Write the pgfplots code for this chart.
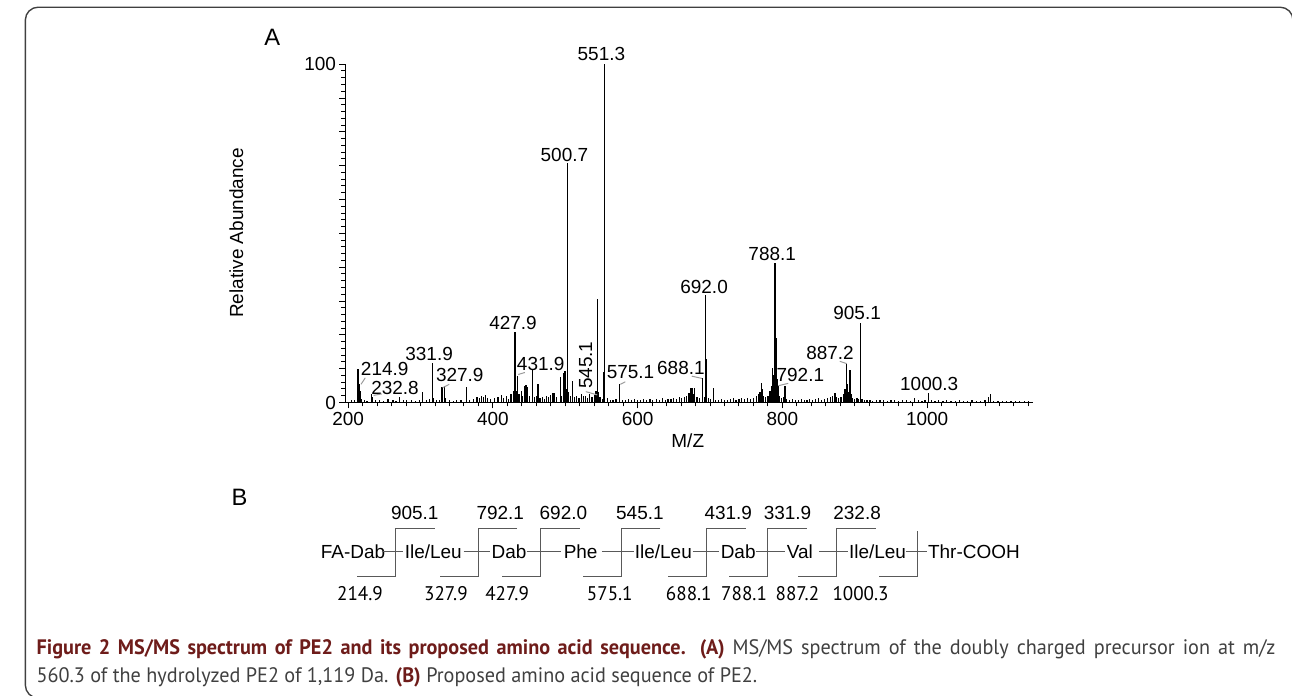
\documentclass[border=0pt]{standalone}
\usepackage{fontspec}
\setmainfont{Liberation Sans}
\newfontfamily\capfont{PT Sans}
\usepackage{graphicx}
\usepackage{pgfplots}
\usepackage{pgfplotstable}
\pgfplotsset{compat=1.18}

\definecolor{capred}{RGB}{110,28,26}
\definecolor{captext}{gray}{0.25}
\definecolor{leader}{gray}{0.6}
\definecolor{brk}{gray}{0.35}

% MS/MS spectrum, m/z vs relative abundance
\pgfplotstableread{
mz ab
205 0.6
209 0.8
213.5 9.8
215 5.5
215.8 5.0
216.5 3.5
218 1.0
222 0.7
226 0.5
231.8 2.4
234 1.7
238 0.6
243 0.8
249 0.5
255 0.9
262 0.7
266 0.5
271.4 1.7
276 0.6
281 0.8
287 0.6
293 0.5
298 0.7
303.2 3.0
308 0.6
312 0.9
316 11.7
318 1.2
322 0.6
326 0.8
329.6 4.5
332.8 4.8
335 1.2
340 0.7
345 0.5
350 0.8
356 0.6
363.3 4.7
368 0.6
373 1.0
378 1.5
381 1.2
384 2.0
387 1.5
390 2.2
393 1.3
397 0.9
402 1.2
407 1.6
411.9 2.2
415 1.4
419 1.8
422 1.0
425 2.6
428 3.3
430.6 20.9
432 3.3
434 7.8
436 2.5
439 3.5
441 1.8
444 4.9
445.6 5.2
447 4.5
450 2.0
454.7 9.6
457 1.5
460 2.0
462.4 5.6
465 1.2
468 1.5
471 0.9
474 1.8
477 1.5
480 2.3
483 2.8
485 2.8
488 1.5
492.9 7.6
495 2.0
497.9 8.6
499.5 9.4
501 4.0
502.5 70.8
504 3.0
507 2.0
510 6.3
513 1.5
516 2.0
519 1.2
522 2.5
525 1.8
528 2.0
531 1.4
534 2.4
537 1.5
540 2.2
542.5 3.5
544.5 30.5
546 3.0
548 1.5
551 1.0
553.3 9.0
554.3 100
558 1.2
562 0.8
566 0.6
570 0.9
575.2 5.4
579 0.8
583 0.6
587 1.0
591 0.7
596 0.9
600 0.6
604 0.8
608 1.0
612 0.7
617 0.9
621 0.6
626 1.1
630 0.8
634 1.2
638 0.7
642 1.0
646 0.9
650 1.3
654 1.0
658 1.5
661 1.2
665 1.5
668 1.8
671 2.8
673.8 4.3
675.5 4.4
677 2.5
679 4.3
682 1.5
686 1.2
689.8 7.3
692 1.5
694.3 31.7
695.5 13.0
698 1.2
701 1.0
704.4 4.2
708 0.8
712 0.6
716 1.0
720 0.8
724 0.6
728 0.9
732 1.2
736 0.8
740 1.0
744 1.3
748 0.9
752 1.2
756 1.0
760 1.4
764 1.8
767 2.5
769 3.0
770.7 5.7
772 4.0
774 2.0
777 1.5
780 1.8
783 3.5
785 5.0
786.6 10.3
788 8.0
789.8 41.1
791.2 19.0
792.5 7.0
794.4 5.0
796 1.8
799 1.2
801 1.5
803.6 5.0
806 1.0
810 0.8
814 0.9
818 0.7
822 0.8
826 1.0
830 0.8
834 0.6
838 1.0
842 0.8
846 0.9
850 1.2
854 0.8
858 1.0
862 1.4
866 1.6
869 2.0
871.6 2.8
873 2.7
875 1.5
878 1.2
881 1.5
884 2.5
886.5 4.0
888.5 11.3
890 5.6
891.5 3.0
893.4 9.5
895 2.5
897 1.2
900 0.9
903 1.2
905 1.0
908.1 23.6
910 1.0
913 0.8
917 0.6
921 0.7
925 0.5
930 0.7
935 0.6
940 0.8
945 0.5
950 0.6
955 0.8
960 0.5
966 0.6
971 0.7
977 0.5
983 1.2
988 0.6
993 0.5
997 0.7
1002 2.7
1006 0.6
1011 0.5
1016 0.6
1022 0.4
1027 0.6
1033 0.5
1039 0.4
1045 0.6
1050 0.5
1056 0.4
1062 0.6
1068 0.5
1074 0.4
1080 0.6
1085 1.5
1087.7 2.5
1092 0.5
1098 0.4
1104 0.5
1110 0.4
1116 0.5
1122 0.4
1128 0.5
1134 0.4
1140 0.3
}\spectrum

\newcommand\numfont{\fontsize{9.6}{11.5}\selectfont}
\newcommand\capsize{\fontsize{10.6}{12.5}\selectfont}
\newcommand\capone{{\bfseries\color{capred}Figure 2 MS/MS spectrum of PE2 and its proposed amino acid sequence. (A)} MS/MS spectrum of the doubly charged precursor ion at m/z}
\newcommand\captwo{560.3 of the hydrolyzed PE2 of 1,119 Da. {\bfseries\color{capred}(B)} Proposed amino acid sequence of PE2.}
\newlength\capw

\begin{document}
% condensed caption: last line sets the squeeze, first line is justified
\settowidth\capw{\capfont\capsize\captwo}
\pgfmathsetmacro\capsx{365/\capw}
\pgfmathsetmacro\capfull{627.5/\capsx}
\begin{tikzpicture}
% page frame, 1 unit = 1 px of the reference
\begin{scope}[x=0.5pt,y=-0.5pt]
\path[use as bounding box] (0,0) rectangle (1292,704);
\draw[black!75,line width=0.7pt,rounded corners=6.5pt] (40,707) -- (9,707) -- (9,7.3) -- (1293,7.3) -- (1293,60);
\end{scope}

\begin{axis}[
  at={(166.5pt,-203.85pt)}, anchor=south west,
  scale only axis, width=348.5pt, height=171.35pt,
  xmin=195.9, xmax=1146.8, ymin=0, ymax=100,
  axis x line*=bottom, axis y line*=left,
  axis line style={line width=0.6pt, -},
  xtick={200,400,...,1000}, minor xtick={220,240,...,1140},
  ytick={0,10,...,100}, yticklabels={0,,,,,,,,,,100},
  minor ytick={2,4,...,98},
  tick align=outside,
  major tick length=3pt, minor tick length=2pt,
  every tick/.style={black, line width=0.5pt},
  tick label style={font=\numfont, inner sep=1.5pt},
  /pgf/number format/assume math mode=true,
  /pgf/number format/1000 sep={},
  xlabel={M/Z}, ylabel={Relative Abundance},
  label style={font=\numfont},
  xlabel style={at={(rel axis cs:0.4978,-0.1322)}, anchor=base},
  ylabel style={at={(rel axis cs:-0.1485,0.501)}, anchor=base},
]
\addplot[ycomb, black, line width=0.6pt, mark=none] table[x=mz, y=ab] {\spectrum};
\end{axis}

\begin{scope}[x=0.5pt,y=-0.5pt, every node/.style={inner sep=0pt, font=\numfont}]
% panel labels
\node[anchor=base, font=\fontsize{12}{14}\selectfont] at (259,46) {A};
\node[anchor=base, font=\fontsize{12}{14}\selectfont] at (226,512) {B};
% peak labels
\foreach \t/\x/\y in {551.3/592.5/61.7, 500.7/555/163.3, 427.9/503/334, 331.9/418/365,
  214.9/373/380.7, 232.8/383.5/400, 327.9/449/386.7, 431.9/531/375, 575.1/622/383.3,
  688.1/673/379.3, 692.0/696.5/297.3, 788.1/765.5/264, 792.1/794/386.7, 887.2/824/364,
  905.1/851.5/324, 1000.3/924.5/396}
  \node[anchor=base] at (\x,\y) {\t};
\node[anchor=base, rotate=90] at (583,370) {545.1};
% leader lines
\draw[leader, line width=0.5pt] (353.3,382.7) -- (349,389.3);
\draw[leader, line width=0.5pt] (370,399) -- (361.7,400.5);
\draw[leader, line width=0.5pt] (438.3,389.3) -- (431.7,392.7);
\draw[leader, line width=0.5pt] (515,377.3) -- (508.3,379.3);
\draw[leader, line width=0.5pt] (576.7,396.7) -- (588.3,400);
\draw[leader, line width=0.5pt] (616.7,386.7) -- (611.7,389.3);
\draw[leader, line width=0.5pt] (684,381) -- (694.3,383.3);
\draw[leader, line width=0.5pt] (781.7,388.3) -- (771.7,390.7);
\draw[leader, line width=0.5pt] (834,366) -- (841,368.3);

% panel B: sequence with fragment brackets
\foreach \x/\t in {308/{FA-Dab}, 393/{Ile/Leu}, 481/{Dab}, 554/{Phe}, 626/{Ile/Leu}, 713/{Dab}, 780/{Val}, 843/{Ile/Leu}, 923/{Thr-COOH}}
  \node[anchor=base west] at (\x,566) {\t};
\foreach \a/\b in {370/391.7, 453/480, 516.7/551.7, 593/625, 685/712, 749/778, 813/842, 901/922}
  \draw[brk, line width=0.6pt] (\a,559) -- (\b,559);
\foreach \x in {384, 467.7, 531, 612.7, 699, 761, 831}
  \draw[brk, line width=0.6pt] (\x+39.5,535) -- (\x,535) -- (\x,584) -- (\x-39,584);
\draw[brk, line width=0.6pt] (912.3,538) -- (912.3,584) -- (873.3,584);
\foreach \t/\x in {905.1/403.5, 792.1/490, 692.0/554, 545.1/631.5, 431.9/721, 331.9/781, 232.8/851.5}
  \node[anchor=base] at (\x,526) {\t};
\foreach \t/\x in {214.9/348, 327.9/435, 427.9/497, 575.1/601, 688.1/681, 788.1/737, 887.2/791, 1000.3/855}
  \node[anchor=base] at (\x,608) {\scalebox{\capsx}[1]{\capfont\fontsize{10}{12}\selectfont\t}};

% caption
\node[anchor=base west, text=captext] at (20,663) {\scalebox{\capsx}[1]{\hbox to \capfull pt{\capfont\capsize\capone}}};
\node[anchor=base west, text=captext] at (20,691) {\scalebox{\capsx}[1]{\capfont\capsize\captwo}};
\end{scope}
\end{tikzpicture}
\end{document}
